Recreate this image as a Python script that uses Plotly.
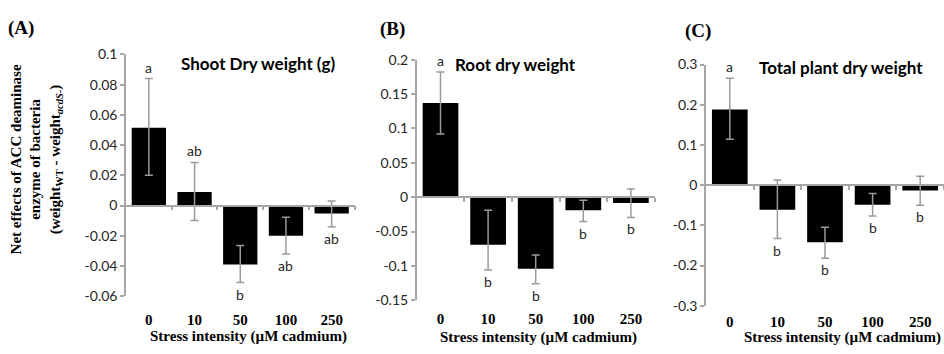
import numpy as np
import plotly.graph_objects as go

# ---------------- data ----------------
categories = ["0", "10", "50", "100", "250"]

shoot_mean = [0.0515, 0.009, -0.039, -0.020, -0.0053]
shoot_err_up = [0.0325, 0.0195, 0.0125, 0.0123, 0.0083]
shoot_err_down = [0.0315, 0.0189, 0.012, 0.012, 0.0087]
shoot_letters = ["a", "ab", "b", "ab", "ab"]

root_mean = [0.137, -0.069, -0.104, -0.019, -0.0085]
root_err_up = [0.045, 0.050, 0.020, 0.0144, 0.0205]
root_err_down = [0.045, 0.037, 0.022, 0.0165, 0.021]
root_letters = ["a", "b", "b", "b", "b"]

total_mean = [0.188, -0.061, -0.142, -0.049, -0.0135]
total_err_up = [0.078, 0.074, 0.037, 0.028, 0.0355]
total_err_down = [0.074, 0.072, 0.040, 0.028, 0.0365]
total_letters = ["a", "b", "b", "b", "b"]

panel_tags = ["(A)", "(B)", "(C)"]
panel_titles = ["Shoot Dry weight (g)", "Root dry weight", "Total plant dry weight"]
y_ranges = [(-0.06, 0.1, 0.02), (-0.15, 0.2, 0.05), (-0.3, 0.3, 0.1)]
x_title = "Stress intensity (µM cadmium)"
y_title = ("Net effects of ACC deaminase<br>enzyme of bacteria<br>"
           "(weight<sub>WT</sub> - weight<sub><i>acdS</i>-</sub>)")

# ---------------- layout geometry (pixels) ----------------
W, H = 944, 354
px_x = [(126, 354.5), (416.7, 654.7), (706, 944)]
px_y = [(47.7, 301.7), (53.3, 306.0), (58.3, 311.7)]
tag_pos = [(21, 20), (392, 21), (698, 23)]
title_pos = [(258, 57), (515, 58), (841, 61)]
xtitle_pos = [(248, 344), (538, 345), (842, 345)]
tick_standoff = [10, 5, 2]

AXIS = "#a6a6a6"
TXT = "#262626"
SERIF = "Liberation Serif"
SANS = "Lato"

panels = [
    (shoot_mean, shoot_err_up, shoot_err_down, shoot_letters),
    (root_mean, root_err_up, root_err_down, root_letters),
    (total_mean, total_err_up, total_err_down, total_letters),
]

fig = go.Figure()
annotations = []
layout = {}

for i, (mean, eup, edn, letters) in enumerate(panels):
    n = i + 1
    xs = "" if n == 1 else str(n)
    xa, ya = f"x{xs}", f"y{xs}"
    xo = f"x{n + 3}"
    x0, x1 = px_x[i]
    yt, yb = px_y[i]
    dom_x = [x0 / W, x1 / W]
    dom_y = [1 - yb / H, 1 - yt / H]
    ymin, ymax, step = y_ranges[i]
    tvals = [round(v, 4) for v in np.arange(ymin, ymax + step / 2, step)]
    ttext = [f"{v:g}" for v in tvals]
    xpos = list(range(len(categories)))

    fig.add_trace(go.Bar(
        x=xpos, y=mean, xaxis=xa, yaxis=ya, width=0.75,
        marker=dict(color="black", line=dict(width=0)),
        error_y=dict(type="data", symmetric=False, array=eup, arrayminus=edn,
                     color="#9a9a9a", thickness=1.5, width=4),
        showlegend=False, hoverinfo="skip",
    ))
    # invisible trace to host the zero-line axis
    fig.add_trace(go.Scatter(x=[None], y=[None], xaxis=xo, yaxis=ya,
                             showlegend=False, hoverinfo="skip"))

    layout[f"xaxis{xs}"] = dict(
        domain=dom_x, anchor=ya, range=[-0.5, len(categories) - 0.5],
        tickvals=xpos, ticktext=categories, showline=False, showgrid=False,
        zeroline=False, ticks="outside", ticklen=tick_standoff[i],
        tickcolor="rgba(0,0,0,0)",
        tickfont=dict(family=SERIF, size=15, color="black", weight="bold"),
    )
    zero_frac = dom_y[0] + (0 - ymin) / (ymax - ymin) * (dom_y[1] - dom_y[0])
    layout[f"xaxis{n + 3}"] = dict(
        overlaying=xa, anchor="free", position=zero_frac,
        range=[-0.5, len(categories) - 0.5],
        tickvals=[k + 0.5 for k in xpos], ticks="outside", ticklen=4,
        tickcolor=AXIS, tickwidth=1.5, showticklabels=False,
        showline=True, linecolor=AXIS, linewidth=1.5,
        showgrid=False, zeroline=False, layer="above traces",
    )
    layout[f"yaxis{xs}"] = dict(
        domain=dom_y, anchor=xa, range=[ymin, ymax],
        tickvals=tvals, ticktext=ttext, showline=True, linecolor=AXIS,
        linewidth=1.5, ticks="outside", ticklen=4, tickcolor=AXIS, tickwidth=1.5,
        showgrid=False, zeroline=False,
        tickfont=dict(family=SANS, size=14, color=TXT),
    )

    # significance letters
    for k, (m, u, d, lt) in enumerate(zip(mean, eup, edn, letters)):
        if m >= 0:
            annotations.append(dict(x=k, y=m + u, xref=xa, yref=ya, text=lt,
                                    showarrow=False, yanchor="bottom", yshift=1,
                                    font=dict(family=SANS, size=14, color=TXT)))
        else:
            annotations.append(dict(x=k, y=m - d, xref=xa, yref=ya, text=lt,
                                    showarrow=False, yanchor="top", yshift=-1,
                                    font=dict(family=SANS, size=14, color=TXT)))

    tx, ty = tag_pos[i]
    annotations.append(dict(x=tx / W, y=1 - ty / H, xref="paper", yref="paper",
                            text=f"<b>{panel_tags[i]}</b>", showarrow=False,
                            xanchor="center", yanchor="middle",
                            font=dict(family=SERIF, size=19, color="black")))
    cx, cy = title_pos[i]
    annotations.append(dict(x=cx / W, y=1 - cy / H, xref="paper", yref="paper",
                            text=f"<b>{panel_titles[i]}</b>", showarrow=False,
                            xanchor="center", yanchor="middle",
                            font=dict(family=SANS, size=17, color="black")))
    gx, gy = xtitle_pos[i]
    annotations.append(dict(x=gx / W, y=1 - gy / H, xref="paper", yref="paper",
                            text=f"<b>{x_title}</b>", showarrow=False,
                            xanchor="center", yanchor="middle",
                            font=dict(family=SERIF, size=15, color="black")))

annotations.append(dict(x=36 / W, y=1 - 158 / H, xref="paper", yref="paper",
                        text=f"<b>{y_title}</b>", showarrow=False, textangle=-90,
                        xanchor="center", yanchor="middle",
                        font=dict(family=SERIF, size=15, color="black")))

fig.update_layout(
    width=W, height=H, margin=dict(l=0, r=0, t=0, b=0),
    paper_bgcolor="white", plot_bgcolor="white",
    annotations=annotations, bargap=0.25, **layout,
)

fig.write_html("out.html")
